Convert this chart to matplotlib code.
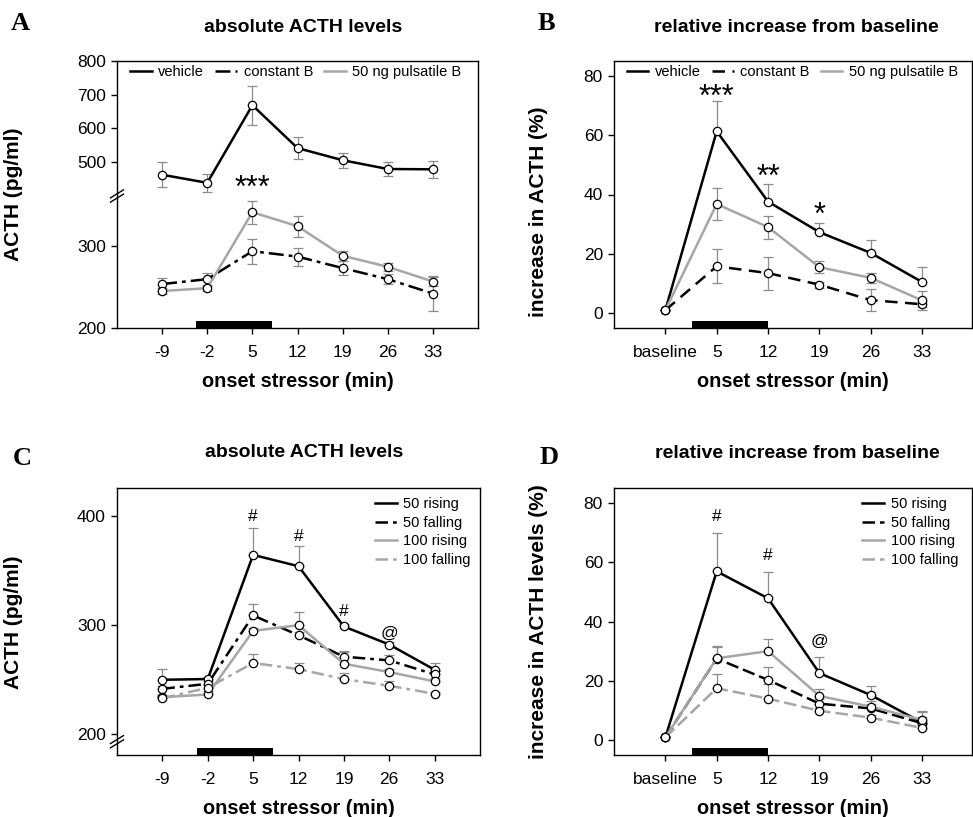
import numpy as np
import matplotlib
matplotlib.use("Agg")
import matplotlib.pyplot as plt

plt.rcParams['font.family'] = ['Liberation Sans', 'DejaVu Sans']
plt.rcParams['axes.unicode_minus'] = False

# x positions (min)
t_abs = [-9, -2, 5, 12, 19, 26, 33]
t_rel = [-2, 5, 12, 19, 26, 33]
rel_labels = ['baseline', '5', '12', '19', '26', '33']

# panel A - absolute ACTH (pg/ml)
a_vehicle = [463, 439, 669, 542, 506, 480, 479]
a_vehicle_err = [37, 26, 58, 32, 22, 20, 25]
a_constant = [253.5, 259.5, 293.5, 287, 273, 259.5, 242]
a_constant_err = [8, 8, 15.5, 11, 8, 6, 21]
a_pulsatile = [245, 248.5, 341, 324, 288, 274.5, 256.6]
a_pulsatile_err = [4, 4, 14, 13, 6, 5, 5]

# panel B - relative increase (%)
b_vehicle = [1.0, 61.3, 37.6, 27.3, 20.3, 10.5]
b_vehicle_err = [0, 10.1, 6.0, 3.0, 4.5, 5.0]
b_constant = [1.0, 15.8, 13.5, 9.6, 4.4, 3.0]
b_constant_err = [0, 5.7, 5.6, 1.0, 3.7, 1.0]
b_pulsatile = [1.0, 36.8, 29.0, 15.5, 11.9, 4.3]
b_pulsatile_err = [0, 5.3, 3.9, 2.0, 1.8, 3.2]

# panel C - absolute ACTH (pg/ml)
c_50r = [249.3, 250, 363.9, 353.5, 298.2, 281.6, 258.5]
c_50r_err = [10, 2, 25, 19, 2, 2, 6]
c_50f = [241, 245.6, 308.3, 290.2, 270.5, 267.1, 254.2]
c_50f_err = [3, 3, 10.7, 3, 5, 5, 3]
c_100r = [233.3, 235.8, 294.2, 299.4, 264, 256.4, 247.8]
c_100r_err = [2, 3, 3, 12, 11, 3, 3]
c_100f = [232.4, 241.9, 264.7, 259.1, 249.9, 243.8, 236.4]
c_100f_err = [2, 3, 8, 6, 6, 4, 2]

# panel D - relative increase (%)
d_50r = [1.0, 57.0, 47.9, 22.7, 15.3, 6.0]
d_50r_err = [0, 13, 9, 5.3, 3.2, 3.7]
d_50f = [1.0, 27.6, 20.4, 12.4, 10.8, 5.8]
d_50f_err = [0, 4.3, 4.4, 1.5, 1.5, 2]
d_100r = [1.0, 27.7, 30.1, 15.0, 11.4, 6.9]
d_100r_err = [0, 3.7, 4.0, 2.4, 2.0, 3.0]
d_100f = [1.0, 17.6, 14.1, 10.0, 7.7, 4.2]
d_100f_err = [0, 4.7, 4.9, 1.0, 1.0, 1.0]

GREY = '#a6a6a6'
ERR = '#8c8c8c'


def series(ax, x, y, err, color, ls, label, sym=True, lw=1.8):
    y = np.array(y)
    err = np.array(err)
    yerr = err if sym else [np.zeros_like(err), err]
    ax.errorbar(x, y, yerr=yerr, fmt='none', ecolor=ERR, elinewidth=0.9,
                capsize=3.5, capthick=0.9, zorder=2)
    ax.plot(x, y, color=color, ls=ls, lw=lw, marker='o', ms=6,
            mfc='white', mec='black', mew=0.9, label=label, zorder=3)


def style(ax):
    for s in ax.spines.values():
        s.set_linewidth(1.0)
    ax.tick_params(axis='both', labelsize=12.5, length=4, width=1, direction='out')
    ax.tick_params(axis='y', pad=4)
    ax.tick_params(axis='x', pad=8)


fig = plt.figure(figsize=(9.73, 8.17), dpi=100)

axA = fig.add_axes([117/973, 1-328/817, 361/973, 267/817])
axB = fig.add_axes([614/973, 1-328/817, 358/973, 267/817])
axC = fig.add_axes([117/973, 1-755.3/817, 363/973, 267/817])
axD = fig.add_axes([614/973, 1-755.3/817, 358/973, 267/817])

# broken y scale for panel A
bp_in = [0, 360.8, 400.3, 1200]
bp_out = [0, 360.8, 360.9, 360.9 + 799.7 * 0.411]


def fwd(v):
    return np.interp(v, bp_in, bp_out)


def inv(v):
    return np.interp(v, bp_out, bp_in)


axA.set_yscale('function', functions=(fwd, inv))

series(axA, t_abs, a_vehicle, a_vehicle_err, 'black', '-', 'vehicle')
series(axA, t_abs, a_constant, a_constant_err, 'black', (0, (6, 2, 1.5, 2)), 'constant B')
series(axA, t_abs, a_pulsatile, a_pulsatile_err, GREY, '-', '50 ng pulsatile B')
axA.set_ylim(200, 800)
axA.set_yticks([200, 300, 500, 600, 700, 800])
axA.text(5, 420, '***', ha='center', va='center', fontsize=22)

series(axB, t_rel, b_vehicle, b_vehicle_err, 'black', '-', 'vehicle', sym=False)
series(axB, t_rel, b_constant, b_constant_err, 'black', (0, (5, 3)), 'constant B')
series(axB, t_rel, b_pulsatile, b_pulsatile_err, GREY, '-', '50 ng pulsatile B')
axB.text(5, 72.5, '***', ha='center', va='center', fontsize=22)
axB.text(12, 45.5, '**', ha='center', va='center', fontsize=22)
axB.text(19, 32.7, '*', ha='center', va='center', fontsize=22)

series(axC, t_abs, c_50r, c_50r_err, 'black', '-', '50 rising', sym=False)
series(axC, t_abs, c_50f, c_50f_err, 'black', (0, (5, 2, 1.5, 2)), '50 falling', sym=False)
series(axC, t_abs, c_100r, c_100r_err, GREY, '-', '100 rising', sym=False)
series(axC, t_abs, c_100f, c_100f_err, GREY, (0, (5, 2, 1.5, 2)), '100 falling', sym=False)
axC.set_ylim(180, 425)
axC.set_yticks([200, 300, 400])
axC.text(5, 399, '#', ha='center', va='center', fontsize=12.5)
axC.text(12, 381, '#', ha='center', va='center', fontsize=12.5)
axC.text(19, 312, '#', ha='center', va='center', fontsize=12.5)
axC.text(26, 291.5, '@', ha='center', va='center', fontsize=12.5)

series(axD, t_rel, d_50r, d_50r_err, 'black', '-', '50 rising', sym=False)
series(axD, t_rel, d_50f, d_50f_err, 'black', (0, (5, 2)), '50 falling', sym=False)
series(axD, t_rel, d_100r, d_100r_err, GREY, '-', '100 rising', sym=False)
series(axD, t_rel, d_100f, d_100f_err, GREY, (0, (5, 2)), '100 falling', sym=False)
axD.text(5, 75.5, '#', ha='center', va='center', fontsize=12.5)
axD.text(12, 62.5, '#', ha='center', va='center', fontsize=12.5)
axD.text(19, 33.5, '@', ha='center', va='center', fontsize=12.5)

for ax in (axA, axC):
    ax.set_xlim(-16, 40)
    ax.set_xticks(t_abs)
    ax.set_ylabel('ACTH (pg/ml)', fontsize=15, fontweight='bold')
    ax.yaxis.set_label_coords(-0.26, 0.5)
    ax.axvspan(-3.7, 8, ymin=0, ymax=0.027, color='black', lw=0)

for ax in (axB, axD):
    ax.set_xlim(-9, 39.8)
    ax.set_ylim(-5, 85)
    ax.set_xticks(t_rel)
    ax.set_xticklabels(rel_labels)
    ax.set_yticks([0, 20, 40, 60, 80])
    ax.axvspan(1.7, 12, ymin=0, ymax=0.027, color='black', lw=0)

axB.set_ylabel('increase in ACTH (%)', fontsize=15, fontweight='bold')
axB.yaxis.set_label_coords(-0.184, 0.436)
axD.set_ylabel('increase in ACTH levels (%)', fontsize=15, fontweight='bold')
axD.yaxis.set_label_coords(-0.184, 0.5)

for ax in (axA, axB, axC, axD):
    style(ax)
    ax.set_xlabel('onset stressor (min)', fontsize=14.3, fontweight='bold')
    ax.xaxis.set_label_coords(0.5, -0.165)

# break marks on the left spine
for ax, yb in ((axA, (328 - 196) / 267), (axC, (755.3 - 741.7) / 267)):
    for dy in (-0.008, 0.008):
        ax.plot([-0.018, 0.018], [yb + dy - 0.015, yb + dy + 0.015], color='black',
                lw=1, transform=ax.transAxes, clip_on=False)

leg_kw = dict(frameon=False, fontsize=10.5, handlelength=1.5, handletextpad=0.45,
              borderpad=0, borderaxespad=0)
axA.legend(loc='upper left', ncol=3, columnspacing=0.75,
           bbox_to_anchor=(0.036, 0.985), **leg_kw)
axB.legend(loc='upper left', ncol=3, columnspacing=0.75,
           bbox_to_anchor=(0.035, 0.985), **leg_kw)
axC.legend(loc='upper right', labelspacing=0.33,
           bbox_to_anchor=(0.975, 0.968), **leg_kw)
axD.legend(loc='upper right', labelspacing=0.33,
           bbox_to_anchor=(0.962, 0.968), **leg_kw)

# remove markers from legend handles
for ax in (axA, axB, axC, axD):
    for h in ax.get_legend().legend_handles:
        h.set_marker('')

fig.text(303/973, 1-27.7/817, 'absolute ACTH levels', ha='center', va='center',
         fontsize=14, fontweight='bold')
fig.text(796/973, 1-27.7/817, 'relative increase from baseline', ha='center', va='center',
         fontsize=14, fontweight='bold')
fig.text(304/973, 1-452.7/817, 'absolute ACTH levels', ha='center', va='center',
         fontsize=14, fontweight='bold')
fig.text(797/973, 1-453.3/817, 'relative increase from baseline', ha='center', va='center',
         fontsize=14, fontweight='bold')

for lab, x, y in (('A', 20, 23), ('B', 546, 23), ('C', 22, 459), ('D', 549, 458)):
    fig.text(x/973, 1-y/817, lab, ha='center', va='center', fontsize=19,
             fontweight='bold', family='Liberation Serif')

fig.savefig('out.png', dpi=100)
